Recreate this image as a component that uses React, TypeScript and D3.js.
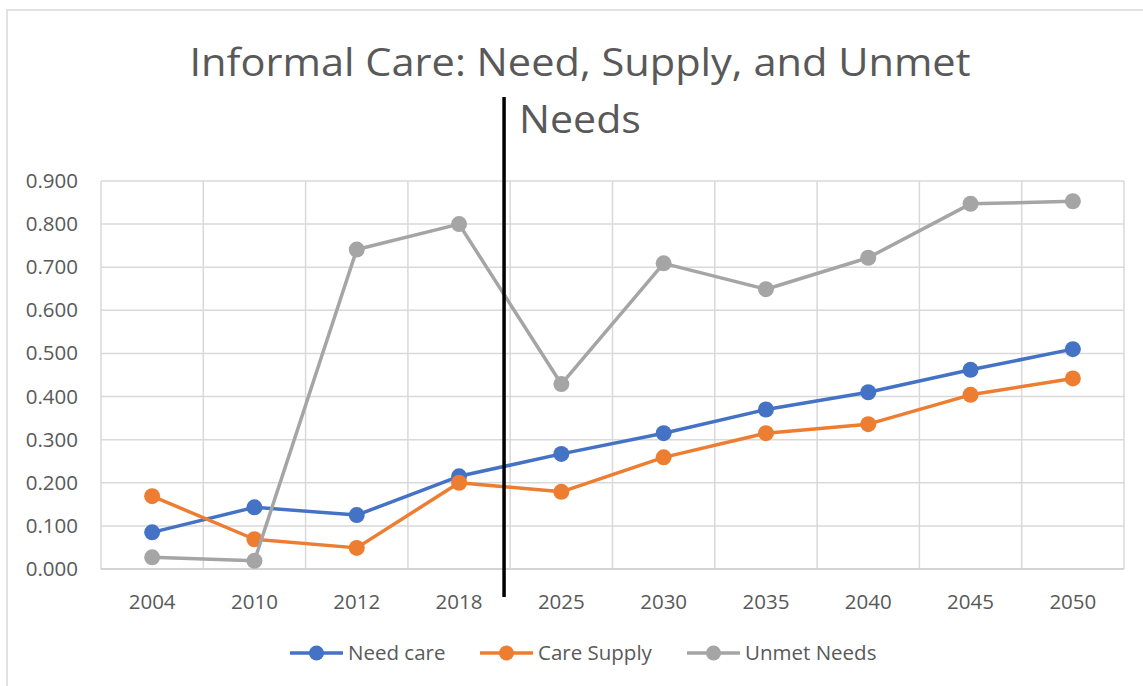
import React from "react";
import * as d3 from "d3";

const categories = ["2004", "2010", "2012", "2018", "2025", "2030", "2035", "2040", "2045", "2050"];
const needCare = [0.085, 0.143, 0.125, 0.215, 0.267, 0.315, 0.37, 0.41, 0.462, 0.51];
const careSupply = [0.169, 0.069, 0.049, 0.2, 0.179, 0.259, 0.315, 0.336, 0.404, 0.442];
const unmetNeeds = [0.027, 0.019, 0.741, 0.8, 0.429, 0.709, 0.649, 0.722, 0.847, 0.853];
const yTicks = [0, 0.1, 0.2, 0.3, 0.4, 0.5, 0.6, 0.7, 0.8, 0.9];
const titleLines = ["Informal Care: Need, Supply, and Unmet", "Needs"];

const series = [
  { name: "Need care", values: needCare, color: "#4472C4" },
  { name: "Care Supply", values: careSupply, color: "#ED7D31" },
  { name: "Unmet Needs", values: unmetNeeds, color: "#A5A5A5" },
];

const W = 1143;
const H = 686;
const FONT = "'Open Sans', 'Noto Sans', sans-serif";
const TEXT = "#595959";
const GRID = "#d9d9d9";

export default function App() {
  const x = d3.scaleBand<string>().domain(categories).range([101, 1124]);
  const y = d3.scaleLinear().domain([0, 0.9]).range([569, 181]);
  const cx = (c: string) => (x(c) as number) + x.bandwidth() / 2;
  const line = d3
    .line<number>()
    .x((_, i) => cx(categories[i]))
    .y((d) => y(d));

  const dividerX = (x("2025") as number) - x.bandwidth() * 0.06;
  const legendX = [290, 480, 687];

  return (
    <div style={{ position: "fixed", left: 0, top: 0 }}>
      <svg width={W} height={H} style={{ display: "block", background: "#fff" }}>
        <rect x={7} y={10} width={1300} height={800} fill="#fff" stroke={GRID} strokeWidth={1.5} />
        {/* title */}
        <text x={580} y={76} textAnchor="middle" fontFamily={FONT} fontSize={39} fill={TEXT}
          textLength={781} lengthAdjust="spacingAndGlyphs">{titleLines[0]}</text>
        <text x={580} y={133} textAnchor="middle" fontFamily={FONT} fontSize={39} fill={TEXT}
          textLength={122} lengthAdjust="spacingAndGlyphs">{titleLines[1]}</text>
        {/* horizontal grid */}
        {yTicks.map((t) => (
          <line key={"h" + t} x1={101} x2={1124} y1={y(t)} y2={y(t)} stroke={GRID} strokeWidth={1.5} />
        ))}
        {/* vertical grid */}
        {categories.map((c) => (
          <line key={"v" + c} x1={x(c) as number} x2={x(c) as number} y1={y(0.9)} y2={y(0)} stroke={GRID} strokeWidth={1.5} />
        ))}
        <line x1={1124} x2={1124} y1={y(0.9)} y2={y(0)} stroke={GRID} strokeWidth={1.5} />
        <line x1={101} x2={1124} y1={y(0)} y2={y(0)} stroke="#cfcfcf" strokeWidth={1.5} />
        {/* y tick labels */}
        {yTicks.map((t) => (
          <text key={"yl" + t} x={78} y={y(t) + 7} textAnchor="end" fontFamily={FONT} fontSize={20.5} fill={TEXT}>
            {d3.format(".3f")(t)}
          </text>
        ))}
        {/* x labels */}
        {categories.map((c) => (
          <text key={"xl" + c} x={cx(c)} y={609} textAnchor="middle" fontFamily={FONT} fontSize={20.5} fill={TEXT}>
            {c}
          </text>
        ))}
        {/* series */}
        {series.map((s) => (
          <g key={s.name}>
            <path d={line(s.values) as string} fill="none" stroke={s.color} strokeWidth={3.5} strokeLinejoin="round" />
            {s.values.map((v, i) => (
              <circle key={i} cx={cx(categories[i])} cy={y(v)} r={8} fill={s.color} />
            ))}
          </g>
        ))}
        {/* divider */}
        <line x1={dividerX} x2={dividerX} y1={97} y2={597} stroke="#000" strokeWidth={3.5} />
        {/* legend */}
        {series.map((s, i) => (
          <g key={"lg" + s.name} transform={`translate(${legendX[i]},653)`}>
            <line x1={0} x2={53} y1={0} y2={0} stroke={s.color} strokeWidth={3.5} />
            <circle cx={26.5} cy={0} r={7.5} fill={s.color} />
            <text x={58} y={7} fontFamily={FONT} fontSize={20.5} fill={TEXT}>{s.name}</text>
          </g>
        ))}
      </svg>
    </div>
  );
}
